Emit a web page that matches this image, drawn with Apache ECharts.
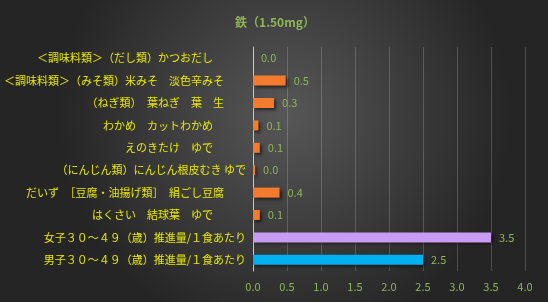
<!DOCTYPE html>
<html>
<head>
<meta charset="utf-8">
<script src="https://cdn.jsdelivr.net/npm/echarts@6/dist/echarts.min.js"></script>
<style>
  html, body { margin: 0; padding: 0; background: #333; }
  #chart { width: 548px; height: 302px; }
</style>
</head>
<body>
<div id="chart"></div>
<script>
// top to bottom, as in the picture (trailing spaces kept as in the source labels)
const categories = [
  '＜調味料類＞（だし類）かつおだし　　　',
  '＜調味料類＞（みそ類）米みそ　淡色辛みそ　　',
  '（ねぎ類）　葉ねぎ　葉　生　　',
  'わかめ　カットわかめ　　　',
  'えのきたけ　ゆで　　　',
  '（にんじん類）にんじん根皮むき ゆで',
  'だいず　［豆腐・油揚げ類］　絹ごし豆腐　　',
  'はくさい　結球葉　ゆで　　　',
  '女子３０～４９（歳）推進量/１食あたり',
  '男子３０～４９（歳）推進量/１食あたり'
]
const values = [0.0, 0.48, 0.31, 0.08, 0.1, 0.03, 0.39, 0.1, 3.5, 2.5]
const xTicks = [0, 0.5, 1, 1.5, 2, 2.5, 3, 3.5, 4]

const barColors = ['#f47a2e', '#f47a2e', '#f47a2e', '#f47a2e', '#f47a2e',
  '#f47a2e', '#f47a2e', '#f47a2e', '#c99bf3', '#00b0f0']

const green = '#8fb556'
const font = '"Noto Sans CJK JP", "Noto Sans", sans-serif'

const chart = echarts.init(document.getElementById('chart'))
chart.setOption({
  animation: false,
  backgroundColor: {
    type: 'radial', x: 0.52, y: 0.38, r: 0.75,
    colorStops: [
      { offset: 0, color: '#575757' },
      { offset: 1, color: '#252525' }
    ]
  },
  title: {
    text: '鉄（1.50mg）',
    left: 270,
    top: 11,
    textAlign: 'center',
    textStyle: { color: green, fontSize: 12, fontWeight: 'bold', fontFamily: font }
  },
  grid: { left: 253, right: 23, top: 47, bottom: 31 },
  xAxis: {
    type: 'value',
    min: xTicks[0],
    max: xTicks[xTicks.length - 1],
    interval: 0.5,
    axisLine: { show: false },
    axisTick: { show: false },
    axisLabel: {
      color: green, fontSize: 11, fontFamily: font, margin: 10,
      formatter: v => v.toFixed(1)
    },
    splitLine: { lineStyle: { color: 'rgba(255,255,255,0.18)', width: 1 } }
  },
  yAxis: {
    type: 'category',
    inverse: true,
    data: categories,
    axisLine: { show: true, lineStyle: { color: '#c8c8c8', width: 1 } },
    axisTick: { show: false },
    axisLabel: { color: '#e8e800', fontSize: 11, fontFamily: font, margin: 7 }
  },
  series: [{
    type: 'bar',
    barWidth: 10,
    data: values.map((v, i) => ({ value: v, itemStyle: { color: barColors[i] } })),
    itemStyle: {
      shadowColor: 'rgba(0,0,0,0.55)',
      shadowBlur: 3,
      shadowOffsetX: 2,
      shadowOffsetY: 2
    },
    label: {
      show: true,
      position: 'right',
      distance: 8,
      color: green,
      fontSize: 11,
      fontFamily: font,
      formatter: p => p.value.toFixed(1)
    }
  }]
})
</script>
</body>
</html>
